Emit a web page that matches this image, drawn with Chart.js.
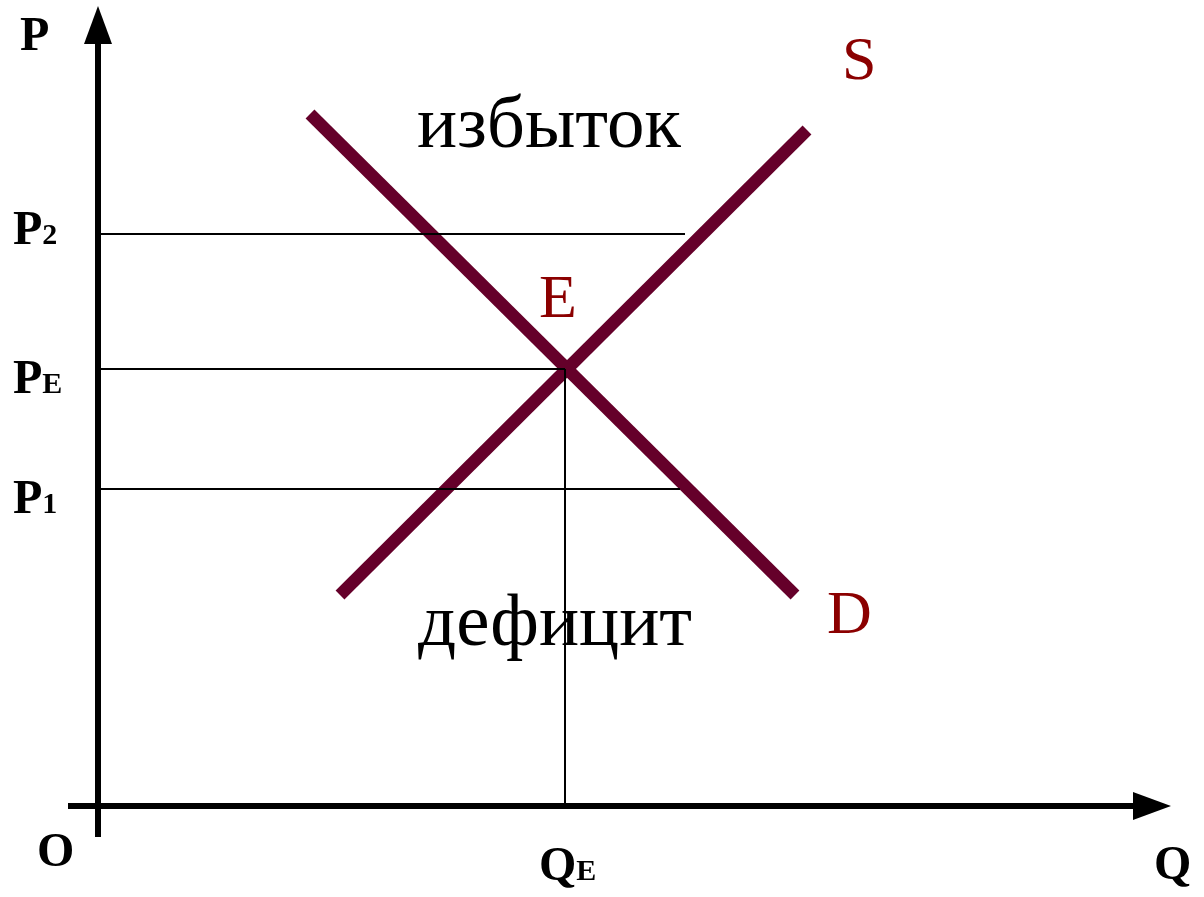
<!DOCTYPE html>
<html>
<head>
<meta charset="utf-8">
<script src="https://cdn.jsdelivr.net/npm/chart.js@4/dist/chart.umd.min.js"></script>
<style>
  html, body { margin: 0; padding: 0; background: #fff; }
  #wrap { width: 1204px; height: 897px; position: relative; }
</style>
</head>
<body>
<div id="wrap"><canvas id="myChart"></canvas></div>
<script>
// supply curve S (quantity, price) end points
const supplyQ = [24.2, 70.9];
const supplyP = [21.1, 67.6];
// demand curve D
const demandQ = [21.2, 69.7];
const demandP = [69.2, 21.1];
// equilibrium E
const equilibriumQ = 46.7;
const equilibriumP = 43.7;
// price levels P2, PE, P1 and how far their guide lines reach
const priceLevels = [57.2, 43.7, 31.7];
const priceSubs = ['2', 'E', '1'];
const priceLineEnds = [58.7, 46.7, 58.2];
// axes: start, end of the shaft, arrow tip
const qAxis = [-3.0, 103.5, 107.3];
const pAxis = [-3.1, 76.2, 80.0];
const curveNames = ['S', 'D', 'E'];
const areaNames = ['избыток', 'дефицит'];
const axisNames = ['P', 'Q', 'O'];

const MAROON = '#65002a';
const RED = '#8b0000';
const SERIF = '"Liberation Serif", "Times New Roman", serif';

const pts = (xs, ys) => xs.map((v, i) => ({x: v, y: ys[i]}));

const datasets = [];
// thin guide lines (on top)
priceLevels.forEach((p, i) => {
  datasets.push({data: [{x: 0, y: p}, {x: priceLineEnds[i], y: p}], borderColor: '#000', borderWidth: 2, order: 0});
});
datasets.push({data: [{x: equilibriumQ, y: equilibriumP}, {x: equilibriumQ, y: 0}], borderColor: '#000', borderWidth: 2, order: 0});
// supply and demand
datasets.push({data: pts(supplyQ, supplyP), borderColor: MAROON, borderWidth: 12.5, borderCapStyle: 'butt', order: 1});
datasets.push({data: pts(demandQ, demandP), borderColor: MAROON, borderWidth: 12.5, borderCapStyle: 'butt', order: 1});
// axes
datasets.push({data: [{x: 0, y: pAxis[0]}, {x: 0, y: pAxis[1]}], borderColor: '#000', borderWidth: 6, borderCapStyle: 'butt', order: 2});
datasets.push({data: [{x: qAxis[0], y: 0}, {x: qAxis[1], y: 0}], borderColor: '#000', borderWidth: 6, borderCapStyle: 'butt', order: 2});
datasets.forEach(d => { d.showLine = true; d.pointRadius = 0; d.fill = false; d.tension = 0; });

// draws arrowheads and all the text
const decorPlugin = {
  id: 'decor',
  afterDatasetsDraw(chart) {
    const ctx = chart.ctx;
    const xs = chart.scales.x, ys = chart.scales.y;
    const ox = xs.getPixelForValue(0), oy = ys.getPixelForValue(0);

    ctx.save();
    ctx.fillStyle = '#000';
    // arrow on P axis
    const pTip = ys.getPixelForValue(pAxis[2]), pBase = ys.getPixelForValue(pAxis[1]);
    ctx.beginPath();
    ctx.moveTo(ox, pTip); ctx.lineTo(ox - 14, pBase); ctx.lineTo(ox + 14, pBase); ctx.closePath(); ctx.fill();
    // arrow on Q axis
    const qTip = xs.getPixelForValue(qAxis[2]), qBase = xs.getPixelForValue(qAxis[1]);
    ctx.beginPath();
    ctx.moveTo(qTip, oy); ctx.lineTo(qBase, oy - 14); ctx.lineTo(qBase, oy + 14); ctx.closePath(); ctx.fill();

    ctx.textAlign = 'left';
    ctx.textBaseline = 'alphabetic';
    const bold = (t, x, y, sub) => {
      ctx.font = 'bold 48px ' + SERIF;
      ctx.fillText(t, x, y);
      if (sub) {
        const w = ctx.measureText(t).width;
        ctx.font = 'bold 30px ' + SERIF;
        ctx.fillText(sub, x + w, y);
      }
    };
    // axis names
    bold(axisNames[0], ox - 78, pTip + 44);
    bold(axisNames[1], qTip - 17, oy + 73);
    bold(axisNames[2], ox - 61, oy + 60);
    // price labels
    const offs = [10, 24, 24];
    priceLevels.forEach((p, i) => bold('P', ox - 85, ys.getPixelForValue(p) + offs[i], priceSubs[i]));
    // QE
    const qe = xs.getPixelForValue(equilibriumQ);
    bold('Q', qe - 26, oy + 74, 'E');

    // curve names
    ctx.fillStyle = RED;
    ctx.font = '62px ' + SERIF;
    ctx.fillText(curveNames[0], xs.getPixelForValue(supplyQ[1]) + 35, ys.getPixelForValue(supplyP[1]) - 51);
    ctx.fillText(curveNames[1], xs.getPixelForValue(demandQ[1]) + 32, ys.getPixelForValue(demandP[1]) + 38);
    ctx.fillText(curveNames[2], qe - 26, ys.getPixelForValue(equilibriumP) - 52);

    // areas
    ctx.fillStyle = '#000';
    ctx.font = '75px ' + SERIF;
    ctx.fillText(areaNames[0], ox + 319, oy - 659);
    ctx.fillText(areaNames[1], ox + 320, oy - 161);
    ctx.restore();
  }
};

new Chart(document.getElementById('myChart').getContext('2d'), {
  type: 'scatter',
  data: {datasets},
  options: {
    responsive: true,
    maintainAspectRatio: false,
    animation: false,
    layout: {padding: 0},
    plugins: {legend: {display: false}, tooltip: {enabled: false}},
    scales: {
      x: {type: 'linear', display: false, min: -9.8, max: 110.6},
      y: {type: 'linear', display: false, min: -9.1, max: 80.6}
    }
  },
  plugins: [decorPlugin]
});
</script>
</body>
</html>
